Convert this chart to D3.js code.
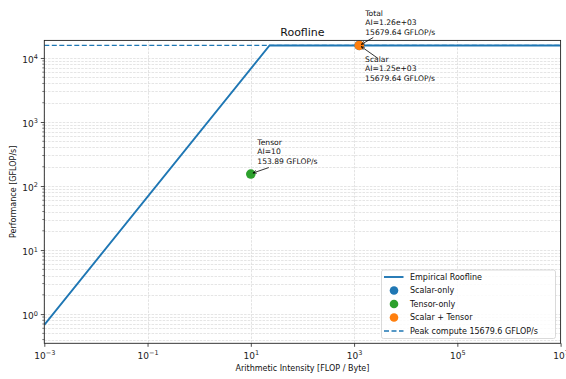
<!DOCTYPE html>
<html><head><meta charset="utf-8">
<script src="https://cdn.jsdelivr.net/npm/d3@7"></script>
<style>
body{margin:0;background:#fff;}
svg{font-family:"DejaVu Sans",sans-serif;}
</style></head>
<body><svg id="c" width="566" height="379"></svg>
<script>
// ---- data ----
const peakCompute = 15679.6;          // GFLOP/s
const bandwidth = 680;                // GB/s (estimated from slope)
const roofAI = [1e-3, peakCompute / bandwidth, 1e7];
const roofPerf = [1e-3 * bandwidth, peakCompute, peakCompute];
const pointNames = ["Scalar", "Tensor", "Total"];
const pointAI = [1250, 10, 1260];
const pointPerf = [15679.64, 153.89, 15679.64];
const pointLabels = ["AI=1.25e+03", "AI=10", "AI=1.26e+03"];
const xTickExp = [-3, -1, 1, 3, 5, 7];
const yTickExp = [0, 1, 2, 3, 4];
const legendLabels = ["Empirical Roofline", "Scalar-only", "Tensor-only", "Scalar + Tensor", "Peak compute 15679.6 GFLOP/s"];

// ---- layout ----
const svg = d3.select("#c");
const L = 44.3, R = 560.6, T = 40.4, B = 343.3;
const x = d3.scaleLog().domain([1e-3, 1e7]).range([L, R]);
const y = d3.scaleLog().domain([0.35, 18815]).range([B, T]);
const blue = "#1f77b4", green = "#2ca02c", orange = "#ff7f0e";

svg.append("defs").append("clipPath").attr("id", "clip")
  .append("rect").attr("x", L).attr("y", T).attr("width", R - L).attr("height", B - T);

// grid
const g = svg.append("g").attr("clip-path", "url(#clip)");
const yMinor = [];
for (let e = -1; e <= 4; e++) for (let m = 1; m <= 9; m++) {
  const v = m * Math.pow(10, e);
  if (v >= 0.35 && v <= 18815) yMinor.push(v);
}
g.selectAll(".hg").data(yMinor).enter().append("line")
  .attr("x1", L).attr("x2", R).attr("y1", d => Math.round(y(d)) + 0.5).attr("y2", d => Math.round(y(d)) + 0.5)
  .attr("stroke", "#dadada").attr("stroke-width", 0.7).attr("stroke-dasharray", "2.5,1.2");
g.selectAll(".vg").data(xTickExp.map(e => Math.pow(10, e))).enter().append("line")
  .attr("y1", T).attr("y2", B).attr("x1", d => Math.round(x(d)) + 0.5).attr("x2", d => Math.round(x(d)) + 0.5)
  .attr("stroke", "#dcdcdc").attr("stroke-width", 0.8).attr("stroke-dasharray", "2.5,1.2");

// peak dashed line
g.append("line").attr("x1", L).attr("x2", R).attr("y1", y(peakCompute)).attr("y2", y(peakCompute))
  .attr("stroke", blue).attr("stroke-width", 1.3).attr("stroke-dasharray", "5,2.5");

// roofline
const line = d3.line().x((d, i) => x(roofAI[i])).y((d, i) => y(roofPerf[i]));
g.append("path").attr("d", line(roofAI)).attr("fill", "none").attr("stroke", blue).attr("stroke-width", 1.9);

// points
const pColors = [blue, green, orange];
svg.selectAll(".pt").data(pointAI).enter().append("circle")
  .attr("cx", d => x(d)).attr("cy", (d, i) => y(pointPerf[i])).attr("r", 4.8)
  .attr("fill", (d, i) => pColors[i]);

// frame
svg.append("rect").attr("x", L).attr("y", T).attr("width", R - L).attr("height", B - T)
  .attr("fill", "none").attr("stroke", "#222").attr("stroke-width", 0.9);

// axes
function sup(sel, exps) {
  sel.each(function (d, i) {
    const t = d3.select(this); t.text("");
    const e = exps[i];
    t.append("tspan").text("10");
    t.append("tspan").attr("dy", "-0.55em").attr("font-size", "6.5px").text(e < 0 ? "\u2212" + (-e) : e);
  });
}
const xa = svg.append("g").attr("transform", `translate(0,${B})`)
  .call(d3.axisBottom(x).tickValues(xTickExp.map(e => Math.pow(10, e))).tickSize(3.5).tickPadding(3.5).tickFormat(() => ""));
xa.select(".domain").remove();
xa.selectAll("line").attr("stroke", "#222").attr("stroke-width", 0.8);
xa.selectAll("text").attr("font-size", "9px").attr("fill", "#222").attr("dy", "0.95em")
  .attr("font-family", "DejaVu Sans");
sup(xa.selectAll("text"), xTickExp);

const ya = svg.append("g").attr("transform", `translate(${L},0)`)
  .call(d3.axisLeft(y).tickValues(yTickExp.map(e => Math.pow(10, e))).tickSize(3.5).tickPadding(3).tickFormat(() => ""));
ya.select(".domain").remove();
ya.selectAll("line").attr("stroke", "#222").attr("stroke-width", 0.8);
ya.selectAll("text").attr("font-size", "9px").attr("fill", "#222").attr("dy", "0.5em")
  .attr("font-family", "DejaVu Sans");
sup(ya.selectAll("text"), yTickExp);
const yMinorTicks = yMinor.filter(v => Math.abs(Math.log10(v) - Math.round(Math.log10(v))) > 1e-9);
svg.append("g").selectAll("line").data(yMinorTicks).enter().append("line")
  .attr("x1", L - 2).attr("x2", L).attr("y1", d => y(d)).attr("y2", d => y(d))
  .attr("stroke", "#222").attr("stroke-width", 0.6);

// titles
svg.append("text").attr("x", (L + R) / 2).attr("y", 35.5).attr("text-anchor", "middle")
  .attr("font-size", "11px").attr("fill", "#111").text("Roofline");
svg.append("text").attr("x", (L + R) / 2).attr("y", 371).attr("text-anchor", "middle")
  .attr("font-size", "8px").attr("fill", "#111").text("Arithmetic Intensity [FLOP / Byte]");
svg.append("text").attr("transform", `translate(16,${(T + B) / 2}) rotate(-90)`).attr("text-anchor", "middle")
  .attr("font-size", "8px").attr("fill", "#111").text("Performance [GFLOP/s]");

// annotations
svg.append("defs").append("marker").attr("id", "arr").attr("viewBox", "0 0 10 10")
  .attr("refX", 10).attr("refY", 5).attr("markerWidth", 5).attr("markerHeight", 5).attr("orient", "auto")
  .append("path").attr("d", "M0,1 L10,5 L0,9").attr("fill", "none").attr("stroke", "#000").attr("stroke-width", 1.4);
const annOff = [ // [text dx, text dy(first baseline), arrow start dx, arrow start dy]
  [6, 16.5, 19, 13],
  [6.5, -29.5, 18, -6.5],
  [6, -29.5, 14, -8]
];
pointNames.forEach((n, i) => {
  const px = x(pointAI[i]), py = y(pointPerf[i]);
  const o = annOff[i];
  const t = svg.append("text").attr("font-size", "7.6px").attr("fill", "#111");
  [n, pointLabels[i], pointPerf[i].toFixed(2) + " GFLOP/s"].forEach((s, k) =>
    t.append("tspan").attr("x", px + o[0]).attr("y", py + o[1] + k * 9.5).text(s));
  const ex = px + 2, ey = py + (o[3] > 0 ? 1 : -1);
  svg.append("line").attr("x1", px + o[2]).attr("y1", py + o[3]).attr("x2", ex).attr("y2", ey)
    .attr("stroke", "#000").attr("stroke-width", 0.8).attr("marker-end", "url(#arr)");
});

// legend
const lg = svg.append("g").attr("transform", "translate(381.5,270)");
lg.append("rect").attr("width", 174).attr("height", 68.5).attr("rx", 2)
  .attr("fill", "#fff").attr("fill-opacity", 0.85).attr("stroke", "#d0d0d0").attr("stroke-width", 0.8);
legendLabels.forEach((s, i) => {
  const yy = 7 + i * 13.5;
  if (i === 0) lg.append("line").attr("x1", 2.5).attr("x2", 22).attr("y1", yy).attr("y2", yy).attr("stroke", blue).attr("stroke-width", 1.9);
  else if (i === 4) lg.append("line").attr("x1", 2.5).attr("x2", 22).attr("y1", yy).attr("y2", yy).attr("stroke", blue).attr("stroke-width", 1.3).attr("stroke-dasharray", "5,2.5");
  else lg.append("circle").attr("cx", 12.5).attr("cy", yy).attr("r", 4.3).attr("fill", pColors[i - 1]);
  lg.append("text").attr("x", 28.5).attr("y", yy).attr("dy", "0.35em").attr("font-size", "8px").attr("fill", "#111").text(s);
});
</script></body></html>
